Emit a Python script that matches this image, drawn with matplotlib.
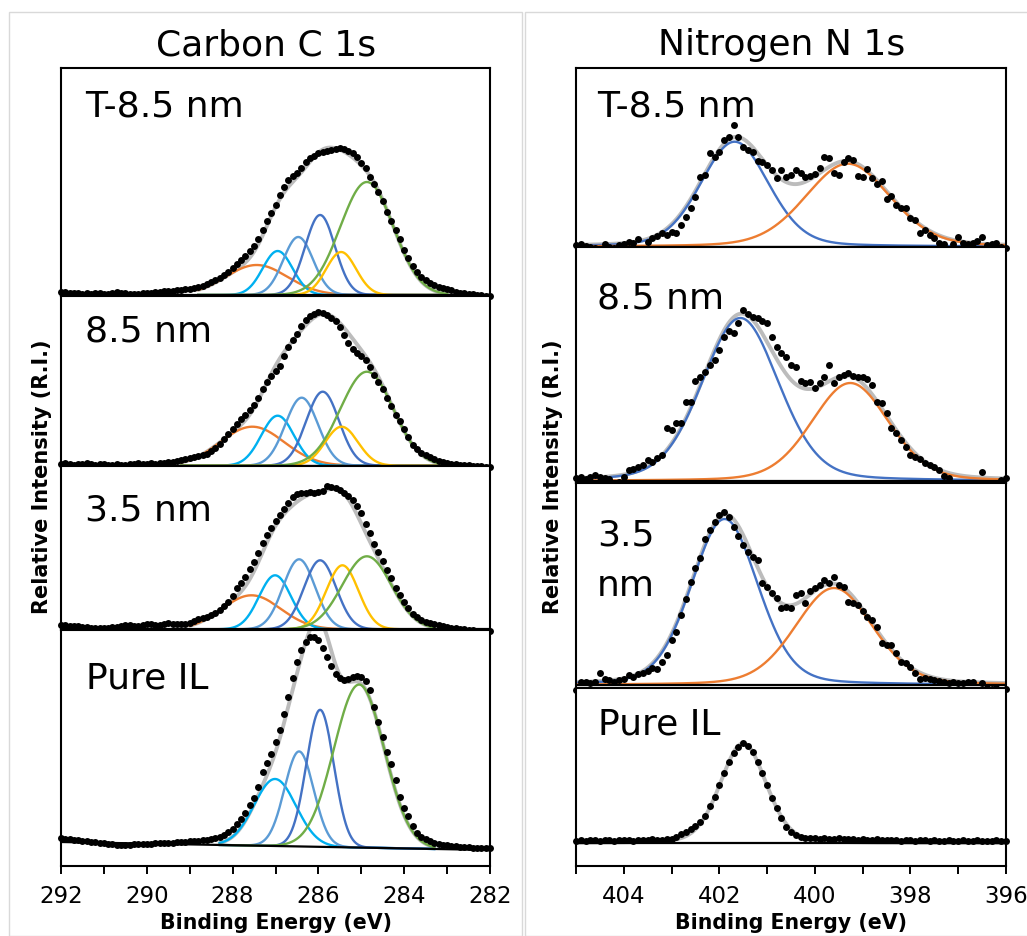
import numpy as np
import matplotlib.pyplot as plt
from matplotlib.patches import Rectangle
from matplotlib.ticker import MultipleLocator, FormatStrFormatter

plt.rcParams['font.family'] = ['DejaVu Sans']

W, H = 1027, 936

# scans run from high to low binding energy in 0.1 eV steps
STEP = 0.1
C1S_START = 292.0
N1S_START = 405.0

c1s_labels = ["T-8.5 nm", "8.5 nm", "3.5 nm", "Pure IL"]
n1s_labels = ["T-8.5 nm", "8.5 nm", "3.5\nnm", "Pure IL"]

# C 1s counts, 292.0 -> 282.0 eV
c1s_t85 = [3, 3, 2, 2, 2, 1, 2, 1, 2, 2,
           1, 1, 2, 3, 2, 2, 1, 1, 1, 2,
           2, 2, 3, 3, 4, 4, 4, 5, 5, 6,
           6, 7, 8, 9, 11, 13, 15, 17, 20, 23,
           27, 31, 35, 39, 44, 49, 56, 65, 74, 82,
           90, 100, 108, 115, 119, 122, 127, 133, 137, 139,
           142, 143, 144, 145, 146, 147, 146, 144, 142, 138,
           132, 127, 118, 111, 103, 94, 83, 74, 65, 56,
           45, 37, 29, 23, 18, 15, 12, 10, 8, 7,
           6, 5, 3, 2, 2, 1, 1, 0, 0, -1,
           -1]
c1s_85 = [2, 3, 2, 1, 2, 2, 3, 2, 1, 2,
          2, 1, 1, 2, 1, 1, 2, 2, 3, 2,
          2, 3, 2, 3, 3, 4, 4, 5, 6, 7,
          8, 9, 10, 11, 12, 15, 18, 22, 27, 32,
          37, 42, 47, 51, 56, 61, 68, 77, 84, 90,
          95, 100, 110, 119, 126, 132, 140, 146, 150, 152,
          154, 153, 151, 148, 145, 139, 131, 123, 117, 113,
          110, 106, 99, 91, 84, 77, 68, 60, 51, 45,
          37, 29, 21, 17, 13, 11, 9, 7, 5, 4,
          3, 2, 2, 1, 1, 1, 0, 0, 0, -1,
          -1]
c1s_35 = [4, 4, 3, 3, 3, 2, 2, 1, 1, 1,
          1, 1, 2, 2, 3, 4, 4, 3, 3, 4,
          5, 5, 4, 4, 5, 6, 5, 5, 5, 5,
          6, 8, 10, 11, 12, 14, 16, 19, 23, 27,
          33, 41, 46, 52, 60, 67, 76, 86, 94, 101,
          108, 114, 120, 126, 132, 135, 136, 136, 137, 136,
          137, 138, 143, 142, 141, 139, 136, 133, 129, 123,
          116, 105, 96, 85, 77, 68, 59, 51, 41, 34,
          27, 21, 15, 12, 9, 7, 6, 5, 4, 3,
          2, 1, 1, 0, 0, -1, -1, -2, -2, -2,
          -2]
c1s_il = [12, 11, 11, 10, 10, 9, 9, 8, 8, 7,
          7, 6, 6, 5, 5, 5, 5, 6, 6, 6,
          6, 6, 7, 7, 7, 7, 7, 8, 8, 8,
          9, 9, 9, 10, 10, 11, 12, 13, 15, 18,
          21, 26, 31, 37, 45, 52, 63, 78, 87, 96,
          108, 120, 136, 153, 172, 188, 200, 208, 213, 213,
          210, 202, 193, 184, 176, 172, 170, 171, 173, 174,
          173, 169, 160, 143, 128, 113, 98, 86, 70, 53,
          42, 34, 24, 17, 13, 11, 9, 7, 6, 5,
          5, 4, 4, 3, 3, 3, 2, 2, 2, 2,
          2]

# N 1s counts, 405.0 -> 396.0 eV
n1s_t85 = [1.7, 2.7, 0.7, 0, -1.7, -2.7, 2.7, 0, -1.7, 1.3,
           2.7, 5, 4, 7.3, -2, 5, 8.3, 10.7, 13.3, 11.7,
           15, 14, 21.7, 30, 38.3, 50, 69.3, 71.7, 93.3, 90,
           95, 106.7, 110, 121.7, 110, 99.3, 96.7, 95, 86, 85,
           81.7, 76.7, 68.3, 76.7, 69.3, 71.7, 76.7, 73.3, 70, 70.7,
           72.7, 78.3, 90, 88.3, 74, 71.7, 85, 88.3, 86.7, 70.7,
           69.3, 77.3, 68.3, 62.7, 66, 47.3, 50.7, 41.7, 38.3, 38.3,
           28.3, 26.7, 13.3, 16.7, 11.7, 8.3, 4, 2.7, -2.7, 2.7,
           10, 3.3, 2.7, 4, 6, 10, 1.7, 2.7, 4, 0,
           -1.7]
n1s_85 = [2.7, 4.3, 1.7, 4.3, 6, 4.3, 2.7, 1.7, -5, -0.7,
          4.3, 11, 11.7, 14.3, 16, 21, 19.3, 22.7, 26, 52.7,
          51, 57.7, 57.7, 79.3, 79.3, 100.3, 104.3, 109.3, 116, 121,
          131, 144.3, 150.3, 147.7, 157.7, 171, 167, 164.3, 162.7, 160.3,
          157.7, 144.3, 134.3, 127.7, 124.3, 116, 113.7, 100.3, 97.7, 99.3,
          92.7, 98.3, 103.7, 116, 97.7, 103.7, 106, 107.7, 105, 104.3,
          103.7, 101.7, 96, 79.3, 77.7, 67.7, 52.7, 47.7, 41, 34.3,
          26, 24.3, 21.7, 18.3, 16, 13.7, 11, 5, 2.7, -1.7,
          -7.3, -9, -6.3, -3, -2.3, 9.3, -1.7, -5.7, -1.7, 1,
          2.7]
n1s_35 = [-5, 3.3, 3.3, 2.3, 3.3, 11.7, 5.7, 5, 3.3, 5,
          5.7, 10, 8.3, 11, 12.3, 14.3, 16.7, 15.7, 23.3, 30,
          45, 53.3, 70, 85.7, 103.3, 116.7, 126.7, 145.7, 155, 163.3,
          170, 173.3, 168.3, 158.3, 149, 140, 133.3, 128.3, 125, 101.7,
          98.3, 91.7, 86.7, 76.7, 78.3, 76.7, 90, 91.7, 81.7, 94.3,
          96.7, 100, 105, 101.7, 108.3, 100, 97.7, 83.3, 82.3, 80,
          74.3, 68.3, 65, 58.3, 41.7, 40, 40, 31.7, 23.3, 21.7,
          18.3, 11.7, 5.7, 6.7, 5.7, 5, 4.3, 3.3, 1.7, 3.3,
          1.7, 2.3, 3.3, 3, -5, 1.7, -3.3, -4.3, -3.3, -5,
          -4.3]
n1s_il = [2, 3, 2, 3, 3, 2, 3, 3, 2, 3,
          3, 3, 2, 3, 3, 3, 4, 3, 3, 4,
          4, 6, 9.3, 11.7, 14, 17.3, 21.7, 27.3, 37.3, 46.7,
          58.3, 70.7, 81.7, 90.7, 96.7, 100.7, 97.7, 91.7, 81.7, 70,
          58.3, 45, 35, 25, 16.7, 11.7, 8.3, 6.7, 5.3, 5,
          5, 4, 5, 4, 4, 5, 4, 4, 4, 3,
          4, 3, 3, 4, 3, 3, 3, 3, 2, 3,
          3, 2, 3, 3, 2, 3, 2, 2, 3, 2,
          2, 3, 2, 2, 3, 2, 2, 2, 3, 2,
          2]

# C 1s fit components (order of c1s_colors); height 0 = not used
c1s_centre = [[287.44, 286.95, 286.47, 285.96, 285.47, 284.87],
              [287.54, 286.95, 286.39, 285.90, 285.46, 284.87],
              [287.56, 287.01, 286.45, 285.96, 285.44, 284.87],
              [287.50, 287.01, 286.45, 285.96, 285.50, 285.05]]
c1s_height = [[30, 44, 58, 80, 43, 113],
              [39, 50, 68, 74, 39, 94],
              [34, 54, 70, 69, 64, 73],
              [0, 67, 95, 137, 0, 163]]
c1s_fwhm = [[1.70, 0.82, 0.82, 0.82, 0.82, 1.45],
            [1.75, 0.90, 0.90, 0.90, 0.90, 1.45],
            [1.60, 0.88, 0.88, 0.88, 0.88, 1.35],
            [1.00, 1.15, 0.80, 0.75, 1.00, 1.38]]
# linear background at the start / end of each scan
c1s_background = [[0, 0], [0, 0], [0, 0], [8, 0]]
c1s_window = [(288.8, 283.0), (289.2, 283.0), (289.0, 283.3), (288.3, 283.3)]

# N 1s fit components (order of n1s_colors)
n1s_centre = [[401.68, 399.31], [401.56, 399.26], [401.89, 399.60], [401.50]]
n1s_height = [[105, 83], [163, 98], [166, 97], [100]]
n1s_fwhm = [[1.68, 2.10], [1.90, 1.91], [1.65, 1.92], [1.13]]
n1s_background = [[0, 0], [0, 0], [0, 0], [0, 0]]
n1s_window = [(405.0, 396.0)] * 4

c1s_colors = ['#ED7D31', '#00B0F0', '#5B9BD5', '#4472C4', '#FFC000', '#70AD47']
n1s_colors = ['#4472C4', '#ED7D31']


def pseudo_voigt(e, centre, height, fwhm, eta):
    x = (e - centre) / fwhm
    return height * ((1 - eta) * np.exp(-4 * np.log(2) * x ** 2) + eta / (1 + 4 * x ** 2))


def axes_px(fig, x0, x1, top, bottom):
    return fig.add_axes([x0 / W, 1 - bottom / H, (x1 - x0) / W, (bottom - top) / H])


def text_px(fig, x, y, s, **kw):
    return fig.text(x / W, 1 - y / H, s, **kw)


def draw_spectrum(ax, start, counts, centres, heights, fwhms, bg, window, colors, eta):
    be = start - STEP * np.arange(len(counts))
    e = np.linspace(window[1], window[0], 600)
    base = np.interp(e, [be[-1], be[0]], [bg[1], bg[0]])
    comps = [(c, h, w, col) for c, h, w, col in zip(centres, heights, fwhms, colors) if h > 0]
    envelope = base + sum(pseudo_voigt(e, c, h, w, eta) for c, h, w, _ in comps)
    ax.plot(e, envelope, color='#BCBCBC', lw=2.8, zorder=2, solid_capstyle='round')
    if len(comps) > 1:
        for c, h, w, col in comps:
            ax.plot(e, base + pseudo_voigt(e, c, h, w, eta), color=col, lw=1.7, zorder=3)
    ax.plot([be[0], be[-1]], bg, color='black', lw=1.6, zorder=3)
    ax.plot(be, counts, 'o', color='black', ms=5.0, mew=0, zorder=4, clip_on=False)


def build_panel(fig, x0, x1, rows, zeros, xlim, spectra, labels, label_xy, title, title_x, ylab_x):
    n = len(spectra)
    for i, (counts, centres, heights, fwhms, bg, window, colors, eta, start) in enumerate(spectra):
        top, bottom = rows[i], rows[i + 1]
        ax = axes_px(fig, x0, x1, top, bottom)
        draw_spectrum(ax, start, counts, centres, heights, fwhms, bg, window, colors, eta)
        ax.set_xlim(*xlim)
        ax.set_ylim(zeros[i] - bottom, zeros[i] - top)
        for sp in ax.spines.values():
            sp.set_linewidth(1.5)
            sp.set_zorder(5)
        ax.set_yticks([])
        if i == n - 1:
            ax.xaxis.set_major_locator(MultipleLocator(2))
            ax.xaxis.set_minor_locator(MultipleLocator(1))
            ax.xaxis.set_major_formatter(FormatStrFormatter('%d'))
            ax.tick_params(axis='x', which='both', direction='out', length=6,
                           width=1.4, labelsize=16.5, pad=8)
        else:
            ax.tick_params(axis='x', which='both', bottom=False, labelbottom=False)
        lx, ly = label_xy[i]
        for j, line in enumerate(labels[i].split('\n')):
            text_px(fig, lx, ly + 51 * j, line, fontsize=26, ha='left', va='baseline')

    text_px(fig, title_x, 55, title, fontsize=26, ha='center', va='baseline')
    text_px(fig, (x0 + x1) / 2, 929, 'Binding Energy (eV)', fontsize=14.8,
            fontweight='bold', ha='center', va='baseline')
    text_px(fig, ylab_x, 477, 'Relative Intensity (R.I.)', fontsize=15,
            fontweight='bold', rotation=90, ha='center', va='center')


fig = plt.figure(figsize=(W / 100, H / 100), dpi=100)
fig.patch.set_facecolor('white')

# chart-area borders
fig.add_artist(Rectangle((9.3 / W, 0), (522.3 - 9.3) / W, 1 - 11.7 / H,
                         transform=fig.transFigure, fill=False, ec='#D9D9D9', lw=1))
fig.add_artist(Rectangle((525.3 / W, 0), (1040 - 525.3) / W, 1 - 11.7 / H,
                         transform=fig.transFigure, fill=False, ec='#D9D9D9', lw=1))

c1s_counts = [c1s_t85, c1s_85, c1s_35, c1s_il]
n1s_counts = [n1s_t85, n1s_85, n1s_35, n1s_il]

carbon = [(c1s_counts[i], c1s_centre[i], c1s_height[i], c1s_fwhm[i], c1s_background[i],
           c1s_window[i], c1s_colors, 0.0, C1S_START) for i in range(4)]
nitrogen = [(n1s_counts[i], n1s_centre[i], n1s_height[i], n1s_fwhm[i], n1s_background[i],
             n1s_window[i], n1s_colors, 0.2, N1S_START) for i in range(4)]

build_panel(fig, 61, 490, [68, 296, 466, 630, 866], [295, 465.7, 629.3, 850],
            (292, 282), carbon, c1s_labels,
            [(85, 116.7), (85, 341.7), (85, 520.7), (86, 688.3)],
            'Carbon C 1s', 266, 41.7)
build_panel(fig, 576, 1006, [68, 247, 483, 688, 866], [246.7, 481, 685, 843.3],
            (405, 396), nitrogen, n1s_labels,
            [(597, 116.7), (597, 308.3), (597, 545), (598, 734.3)],
            'Nitrogen N 1s', 782, 553)

fig.savefig('out.png', dpi=100)
